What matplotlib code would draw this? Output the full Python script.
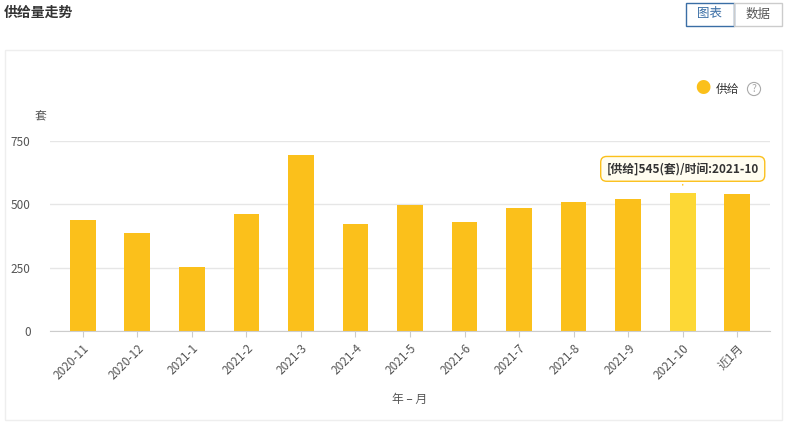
import matplotlib
matplotlib.use("Agg")
import matplotlib.pyplot as plt
from matplotlib.patches import Rectangle, FancyBboxPatch

plt.rcParams["font.family"] = ["Noto Sans CJK SC", "DejaVu Sans"]

months = ["2020-11", "2020-12", "2021-1", "2021-2", "2021-3", "2021-4", "2021-5",
          "2021-6", "2021-7", "2021-8", "2021-9", "2021-10", "近1月"]
supply = [438, 387, 253, 462, 695, 422, 497, 430, 485, 509, 521, 545, 541]
highlight = "2021-10"

fig = plt.figure(figsize=(7.86, 4.22), dpi=100)
# outer panel
fig.patches.append(Rectangle((5 / 786, 2 / 422), 777 / 786, 370 / 422, transform=fig.transFigure,
                             fill=False, edgecolor="#eeeeee", lw=1))
fig.text(4 / 786, 1 - 13 / 422, "供给量走势", fontsize=10, fontweight="bold", color="#333333", va="center")
# toggle buttons
fig.patches.append(Rectangle((686 / 786, 1 - 26 / 422), 48 / 786, 23 / 422, transform=fig.transFigure,
                             fill=False, edgecolor="#3a6ea5", lw=1))
fig.patches.append(Rectangle((734 / 786, 1 - 26 / 422), 48 / 786, 23 / 422, transform=fig.transFigure,
                             fill=False, edgecolor="#cccccc", lw=1))
fig.text(710 / 786, 1 - 14 / 422, "图表", fontsize=9, color="#3a6ea5", ha="center", va="center")
fig.text(758 / 786, 1 - 14 / 422, "数据", fontsize=9, color="#555555", ha="center", va="center")

ax = fig.add_axes([50 / 786, 1 - 331 / 422, 720 / 786, 190 / 422])
xs = list(range(len(months)))
colors = ["#fdd835" if m == highlight else "#fbc01b" for m in months]
ax.bar(xs, supply, width=0.47, color=colors, zorder=2)
ax.set_xlim(-0.6, len(months) - 0.4)
ax.set_ylim(0, 750)
ax.set_yticks([0, 250, 500, 750])
ax.tick_params(axis="y", length=0, labelsize=8.5, labelcolor="#555555", pad=14)
ax.grid(axis="y", color="#e6e6e6", lw=1, zorder=0)
ax.set_xticks(xs)
ax.set_xticklabels(months, rotation=45, ha="right", rotation_mode="anchor", fontsize=8.5, color="#555555")
ax.tick_params(axis="x", length=4, color="#cccccc")
for s in ["top", "right", "left"]:
    ax.spines[s].set_visible(False)
ax.spines["bottom"].set_color("#cccccc")
ax.set_xlabel("年 – 月", fontsize=8.5, color="#555555", labelpad=8)
fig.text(40 / 786, 1 - 117 / 422, "套", fontsize=8.5, color="#555555", ha="center", va="center")

# legend
fig.text(703 / 786, 1 - 89 / 422, "●", fontsize=11, color="#fbc01b", ha="center", va="center")
fig.text(716 / 786, 1 - 89 / 422, "供给", fontsize=8.5, color="#333333", va="center")
fig.text(754 / 786, 1 - 89 / 422, "?", fontsize=7.5, color="#aaaaaa", ha="center", va="center",
         bbox=dict(boxstyle="circle,pad=0.15", fc="white", ec="#aaaaaa", lw=0.8))

# tooltip
hi = months.index(highlight)
ax.annotate(f"[供给]{supply[hi]}(套)/时间:{highlight}", xy=(hi, supply[hi] + 20), xytext=(hi, 640),
            ha="center", va="center", fontsize=8.5, fontweight="bold", color="#333333",
            bbox=dict(boxstyle="round,pad=0.5", fc="#fffdf0", ec="#fbc01b", lw=1),
            arrowprops=dict(arrowstyle="-", color="#fbc01b"), zorder=5)

fig.savefig("out.png", dpi=100)
